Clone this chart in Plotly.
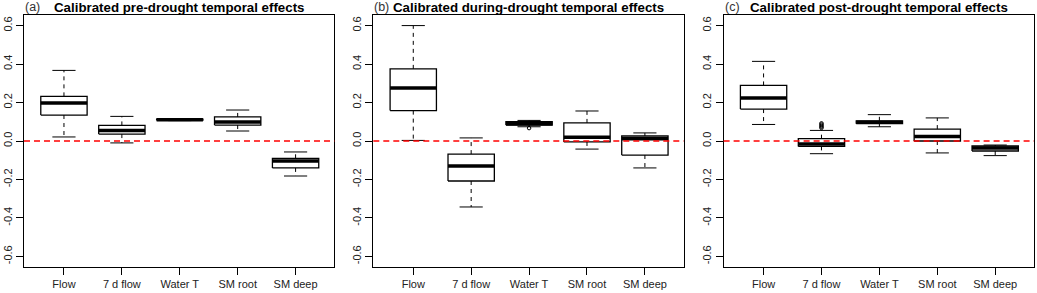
import plotly.graph_objects as go

categories = ["Flow", "7 d flow", "Water T", "SM root", "SM deep"]

titles = ["Calibrated pre-drought temporal effects",
          "Calibrated during-drought temporal effects",
          "Calibrated post-drought temporal effects"]
panel_tags = ["(a)", "(b)", "(c)"]

# Panel (a) pre-drought
pre_lower = [0.021, -0.010, 0.106, 0.052, -0.182]
pre_q1    = [0.135, 0.036, 0.108, 0.083, -0.140]
pre_med   = [0.198, 0.054, 0.111, 0.099, -0.104]
pre_q3    = [0.232, 0.081, 0.113, 0.125, -0.090]
pre_upper = [0.367, 0.128, 0.116, 0.161, -0.057]
pre_out   = [[], [], [], [], []]

# Panel (b) during-drought
dur_lower = [0.003, -0.343, 0.074, -0.042, -0.140]
dur_q1    = [0.158, -0.208, 0.083, -0.005, -0.073]
dur_med   = [0.276, -0.130, 0.090, 0.019, 0.012]
dur_q3    = [0.375, -0.068, 0.100, 0.094, 0.026]
dur_upper = [0.600, 0.016, 0.107, 0.156, 0.042]
dur_out   = [[], [], [0.067], [], []]

# Panel (c) post-drought
post_lower = [0.086, -0.066, 0.074, -0.062, -0.076]
post_q1    = [0.166, -0.028, 0.090, 0.000, -0.052]
post_med   = [0.224, -0.016, 0.098, 0.024, -0.036]
post_q3    = [0.289, 0.012, 0.105, 0.062, -0.026]
post_upper = [0.414, 0.055, 0.137, 0.120, -0.021]
post_out   = [[], [0.068, 0.074, 0.080, 0.086, 0.092], [], [], []]

y_ticks = [-0.6, -0.4, -0.2, 0.0, 0.2, 0.4, 0.6]
y_ticktext = ["-0.6", "-0.4", "-0.2", "0.0", "0.2", "0.4", "0.6"]

panels = [
    (pre_lower, pre_q1, pre_med, pre_q3, pre_upper, pre_out),
    (dur_lower, dur_q1, dur_med, dur_q3, dur_upper, dur_out),
    (post_lower, post_q1, post_med, post_q3, post_upper, post_out),
]

W, H = 1037, 293
ML, MR, MT, MB = 23, 2, 15, 26
PW = W - ML - MR
lefts = [23, 373, 724]
pw = 311
domains = [[(l - ML) / PW, min(1.0, (l - ML + pw) / PW)] for l in lefts]

BW = 0.4   # half box width
CW = 0.2   # half cap width
FONT = "Arial, Liberation Sans, sans-serif"

fig = go.Figure()
for p, (lo, q1, md, q3, up, outs) in enumerate(panels):
    xa = "x" if p == 0 else f"x{p+1}"
    ya = "y" if p == 0 else f"y{p+1}"
    bx, by, mx, my, wx, wy, cx, cy, ox, oy = [], [], [], [], [], [], [], [], [], []
    for i in range(len(categories)):
        x = i + 1
        wx += [x, x, None, x, x, None]
        wy += [q3[i], up[i], None, q1[i], lo[i], None]
        cx += [x - CW, x + CW, None, x - CW, x + CW, None]
        cy += [up[i], up[i], None, lo[i], lo[i], None]
        bx += [x - BW, x + BW, x + BW, x - BW, x - BW, None]
        by += [q1[i], q1[i], q3[i], q3[i], q1[i], None]
        mx += [x - BW, x + BW, None]
        my += [md[i], md[i], None]
        for v in outs[i]:
            ox.append(x)
            oy.append(v)
    fig.add_trace(go.Scatter(x=wx, y=wy, mode="lines", xaxis=xa, yaxis=ya,
                             line=dict(color="black", width=1, dash="4px,4px"),
                             hoverinfo="skip", showlegend=False))
    fig.add_trace(go.Scatter(x=cx, y=cy, mode="lines", xaxis=xa, yaxis=ya,
                             line=dict(color="black", width=1),
                             hoverinfo="skip", showlegend=False))
    fig.add_trace(go.Scatter(x=bx, y=by, mode="lines", xaxis=xa, yaxis=ya,
                             line=dict(color="black", width=1.3),
                             hoverinfo="skip", showlegend=False))
    fig.add_trace(go.Scatter(x=mx, y=my, mode="lines", xaxis=xa, yaxis=ya,
                             line=dict(color="black", width=3.5),
                             hoverinfo="skip", showlegend=False))
    if ox:
        fig.add_trace(go.Scatter(x=ox, y=oy, mode="markers", xaxis=xa, yaxis=ya,
                                 marker=dict(symbol="circle-open", size=3.5,
                                             color="black", line=dict(width=1)),
                                 hoverinfo="skip", showlegend=False))

    axis_common = dict(showline=True, mirror=True, linecolor="black", linewidth=1,
                       ticks="outside", ticklen=7, tickcolor="black",
                       showgrid=False, zeroline=False)
    fig.update_layout(**{
        ("xaxis" if p == 0 else f"xaxis{p+1}"): dict(
            domain=domains[p], range=[0.31, 5.67], anchor=ya,
            tickvals=list(range(1, len(categories) + 1)), ticktext=categories,
            tickfont=dict(family=FONT, size=11, color="#222"),
            **axis_common),
        ("yaxis" if p == 0 else f"yaxis{p+1}"): dict(
            domain=[0, 1], range=[-0.655, 0.655], anchor=xa,
            tickvals=y_ticks, ticktext=y_ticktext, tickangle=-90,
            tickfont=dict(family=FONT, size=11, color="#222"),
            **axis_common),
    })
    fig.add_shape(type="line", xref=f"{xa} domain", yref=ya, x0=0, x1=1, y0=0, y1=0,
                  line=dict(color="#ff0000", width=1.3, dash="6px,4px"), layer="above")
    xc = (domains[p][0] + domains[p][1]) / 2
    fig.add_annotation(text=f"<b>{titles[p]}</b>", xref="paper", yref="paper",
                       x=xc, y=1 + 8 / (H - MT - MB), xanchor="center", yanchor="middle",
                       showarrow=False, font=dict(family=FONT, size=13.3, color="black"))
    fig.add_annotation(text=panel_tags[p], xref="paper", yref="paper",
                       x=domains[p][0], y=1 + 8 / (H - MT - MB), xanchor="left",
                       yanchor="middle", xshift=-1,
                       showarrow=False, font=dict(family=FONT, size=12.5, color="#333"))

fig.update_layout(width=W, height=H, margin=dict(l=ML, r=MR, t=MT, b=MB),
                  plot_bgcolor="white", paper_bgcolor="white", showlegend=False)

fig.write_html("out.html", config={"displayModeBar": False},
               post_script="document.body.style.margin='0';document.body.style.padding='0';")
